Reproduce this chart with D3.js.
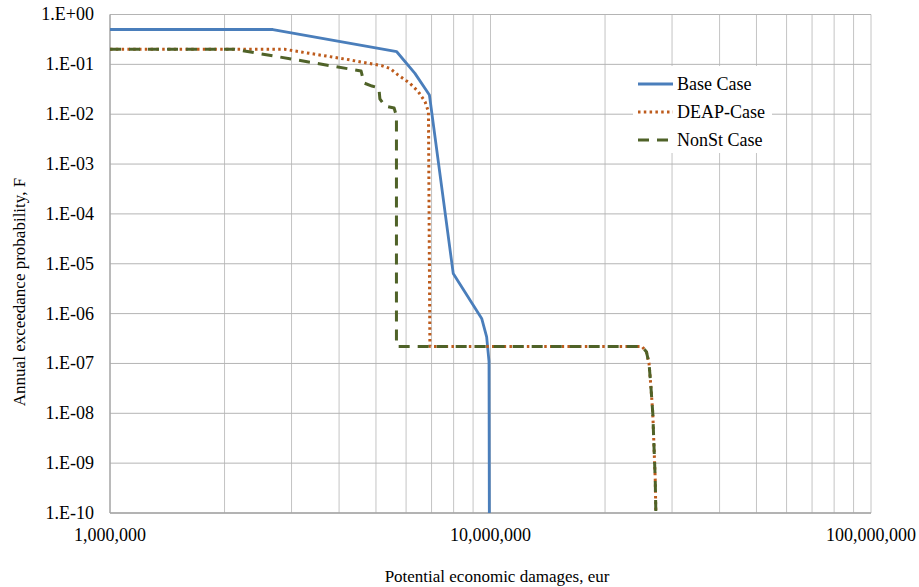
<!DOCTYPE html>
<html>
<head>
<meta charset="utf-8">
<script src="https://cdn.jsdelivr.net/npm/d3@7"></script>
<style>
  body { margin: 0; background: #fff; }
  svg { display: block; font-family: "Liberation Serif", "Times New Roman", serif; }
</style>
</head>
<body>
<svg id="chart" width="919" height="587"></svg>
<script>
// damages (eur) and annual exceedance probability
const baseDamage = [1e6, 2.68e6, 5.67e6, 6.33e6, 6.91e6, 7.98e6, 9.48e6, 9.77e6, 9.91e6, 9.93e6];
const baseProb = [0.5, 0.5, 0.179, 0.066, 0.0243, 6.4e-6, 8.0e-7, 3.4e-7, 1.1e-7, 1e-10];

const deapDamage = [1e6, 2.88e6, 4.19e6, 5.18e6, 5.44e6, 5.72e6, 6.14e6, 6.46e6, 6.73e6, 6.87e6, 6.93e6,
  2.5e7, 2.57e7, 2.61e7, 2.64e7, 2.67e7, 2.69e7, 2.71e7, 2.72e7];
const deapProb = [0.2, 0.2, 0.126, 0.094, 0.083, 0.061, 0.0417, 0.0283, 0.0178, 0.0112, 2.2e-7,
  2.2e-7, 1.7e-7, 1e-7, 3.4e-8, 1e-8, 2.1e-9, 4.6e-10, 1e-10];

const nonstDamage = [1e6, 2.13e6, 4.57e6, 4.65e6, 4.88e6, 5.09e6, 5.12e6, 5.28e6, 5.58e6, 5.66e6, 5.66e6,
  2.5e7, 2.57e7, 2.61e7, 2.64e7, 2.67e7, 2.69e7, 2.71e7, 2.72e7];
const nonstProb = [0.2, 0.2, 0.0736, 0.0423, 0.0367, 0.0335, 0.0202, 0.0146, 0.0133, 0.0092, 2.2e-7,
  2.2e-7, 1.7e-7, 1e-7, 3.4e-8, 1e-8, 2.1e-9, 4.6e-10, 1e-10];

const seriesNames = ["Base Case", "DEAP-Case", "NonSt Case"];
const xTicks = [1e6, 1e7, 1e8];
const yTicks = [1, 1e-1, 1e-2, 1e-3, 1e-4, 1e-5, 1e-6, 1e-7, 1e-8, 1e-9, 1e-10];
const xTitle = "Potential economic damages, eur";
const yTitle = "Annual exceedance probability, F";

const series = [
  { name: seriesNames[0], x: baseDamage, y: baseProb, color: "#4a7ebb", dash: null },
  { name: seriesNames[1], x: deapDamage, y: deapProb, color: "#bd5b1c", dash: "2.5,3.3" },
  { name: seriesNames[2], x: nonstDamage, y: nonstProb, color: "#4f6228", dash: "11,8" }
];

const margin = { top: 14.5, left: 110, right: 48, bottom: 74 };
const width = 919, height = 587;

const svg = d3.select("#chart");
const x = d3.scaleLog().domain([1e6, 1e8]).range([margin.left, width - margin.right]);
const y = d3.scaleLog().domain([1e-10, 1]).range([height - margin.bottom, margin.top]);

// grid: minor log lines on x, decades on y
const xGrid = [];
[1e6, 1e7].forEach(d => { for (let k = 1; k < 10; k++) xGrid.push(d * k); });
xGrid.push(1e8);

const grid = svg.append("g").attr("class", "grid");
grid.selectAll(".vx")
  .data(xGrid)
  .enter()
  .append("line")
  .attr("x1", d => x(d)).attr("x2", d => x(d))
  .attr("y1", y(1)).attr("y2", y(1e-10))
  .attr("stroke", "#c4c4c4")
  .attr("stroke-width", 1);
grid.selectAll(".hy")
  .data(yTicks)
  .enter()
  .append("line")
  .attr("x1", x(1e6)).attr("x2", x(1e8))
  .attr("y1", d => y(d)).attr("y2", d => y(d))
  .attr("stroke", "#b4b4b4")
  .attr("stroke-width", 1);

// axis lines
svg.append("line")
  .attr("x1", x(1e6)).attr("x2", x(1e6))
  .attr("y1", y(1)).attr("y2", y(1e-10))
  .attr("stroke", "#a6a6a6").attr("stroke-width", 1.3);
svg.append("line")
  .attr("x1", x(1e6)).attr("x2", x(1e8))
  .attr("y1", y(1e-10)).attr("y2", y(1e-10))
  .attr("stroke", "#a6a6a6").attr("stroke-width", 1.3);

// tick labels
const fmtX = d3.format(",.0f");
const fmtY = d => {
  const e = Math.round(Math.log10(d));
  const s = e < 0 ? "-" : "+";
  return `1.E${s}${String(Math.abs(e)).padStart(2, "0")}`;
};

svg.append("g")
  .selectAll("text")
  .data(xTicks)
  .enter()
  .append("text")
  .attr("x", d => x(d))
  .attr("y", y(1e-10) + 28)
  .attr("font-size", 18)
  .style("text-anchor", "middle")
  .text(fmtX);

svg.append("g")
  .selectAll("text")
  .data(yTicks)
  .enter()
  .append("text")
  .attr("x", 94)
  .attr("y", d => y(d))
  .attr("dy", "0.33em")
  .attr("font-size", 18)
  .style("text-anchor", "end")
  .text(fmtY);

// axis titles
svg.append("text")
  .attr("x", 497)
  .attr("y", 582)
  .attr("font-size", 17)
  .style("text-anchor", "middle")
  .text(xTitle);

svg.append("text")
  .attr("transform", "translate(25,292) rotate(-90)")
  .attr("font-size", 17)
  .style("text-anchor", "middle")
  .text(yTitle);

// curves
const line = d3.line()
  .x(d => x(d[0]))
  .y(d => y(d[1]));

svg.append("g")
  .selectAll("path")
  .data(series)
  .enter()
  .append("path")
  .attr("d", s => line(s.x.map((v, i) => [v, s.y[i]])))
  .attr("fill", "none")
  .attr("stroke", s => s.color)
  .attr("stroke-width", s => (s.dash ? 3 : 2.8))
  .attr("stroke-dasharray", s => s.dash)
  .attr("stroke-linejoin", "round");

// legend
const legend = svg.append("g").attr("transform", "translate(633,66)");
legend.append("rect")
  .attr("width", 139)
  .attr("height", 87)
  .attr("fill", "#fff");

const item = legend.selectAll(".item")
  .data(series)
  .enter()
  .append("g")
  .attr("transform", (d, i) => `translate(0,${18 + i * 28})`);

item.append("line")
  .attr("x1", 5).attr("x2", 40)
  .attr("y1", 0).attr("y2", 0)
  .attr("stroke", d => d.color)
  .attr("stroke-width", d => (d.dash ? 3 : 2.8))
  .attr("stroke-dasharray", d => d.dash);

item.append("text")
  .attr("x", 44)
  .attr("dy", "0.33em")
  .attr("font-size", 18)
  .text(d => d.name);
</script>
</body>
</html>
